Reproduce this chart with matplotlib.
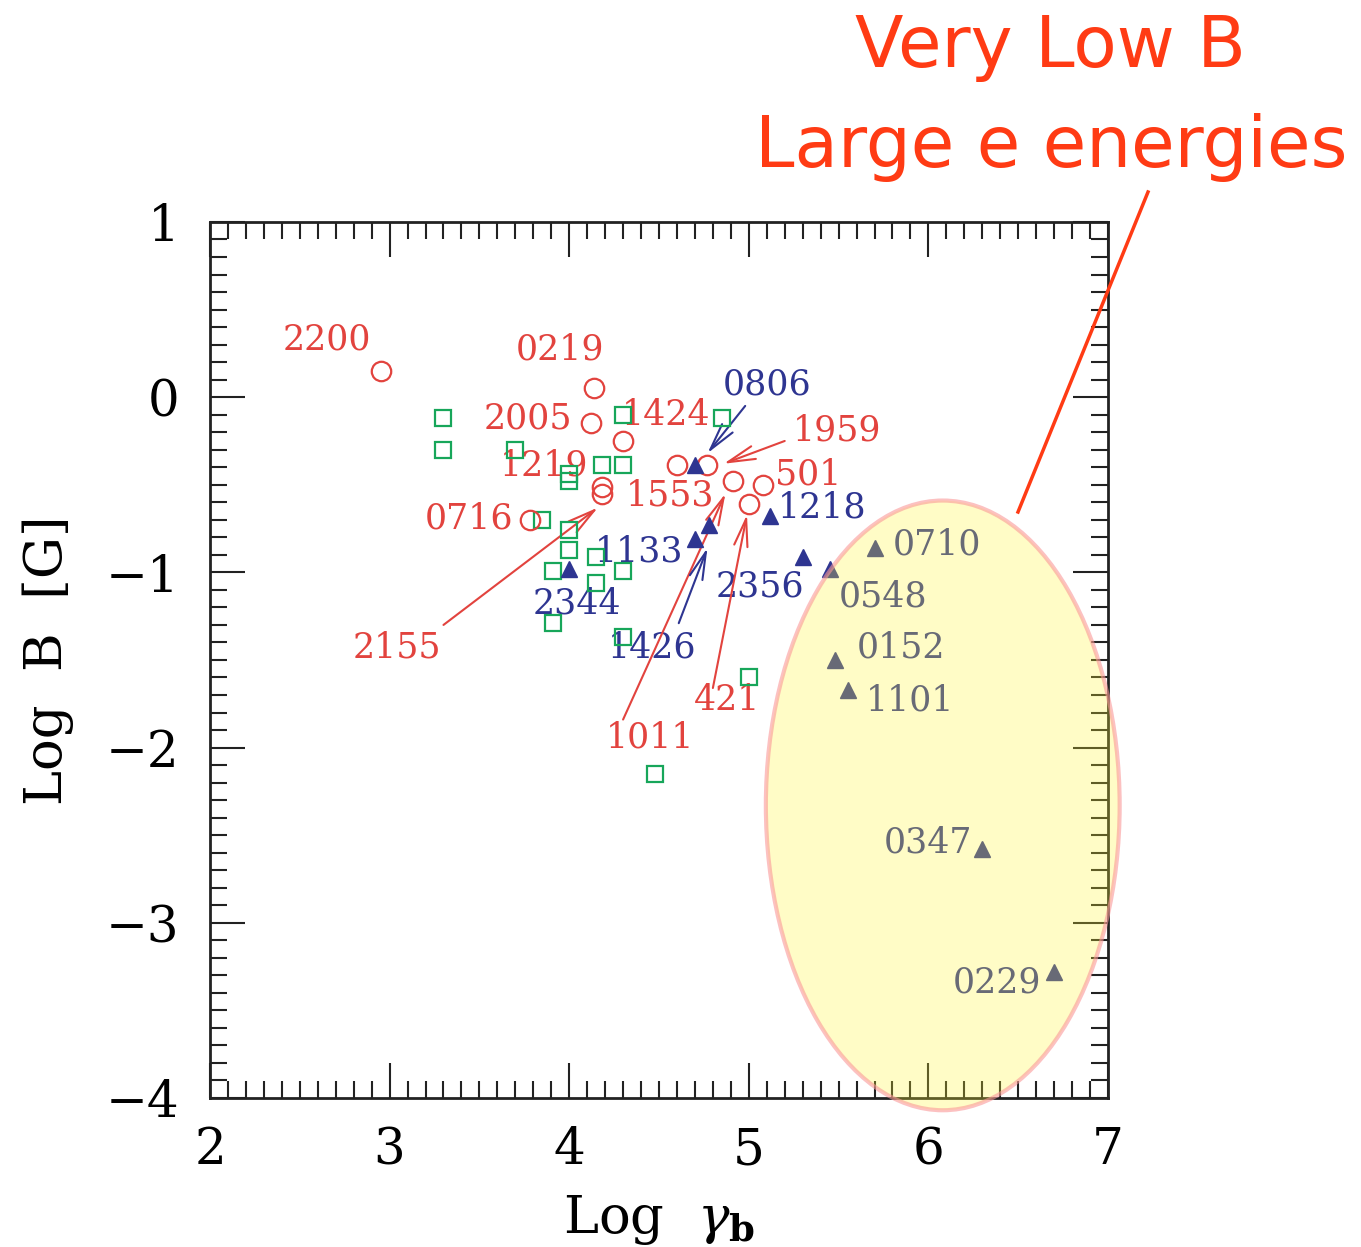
import matplotlib
matplotlib.use("Agg")
import matplotlib.pyplot as plt
from matplotlib.patches import Ellipse
from matplotlib.lines import Line2D
from matplotlib.ticker import MultipleLocator

RED = '#e2433e'
BLUE = '#2e3591'
GREEN = '#17a65a'

# red open circles (log gamma_b, log B)
circ_x = [2.95, 4.14, 4.12, 4.30, 4.60, 4.77, 4.18, 4.18, 3.78, 4.91, 5.08, 5.00]
circ_y = [0.15, 0.05, -0.15, -0.25, -0.39, -0.39, -0.51, -0.55, -0.70, -0.48, -0.50, -0.61]

# blue filled triangles (the ones inside the ellipse end up grey)
tri_x = [4.70, 4.78, 4.70, 5.12, 5.30, 5.45, 4.00, 5.70, 5.48, 5.55, 6.30, 6.70]
tri_y = [-0.39, -0.73, -0.81, -0.68, -0.91, -0.98, -0.98, -0.86, -1.50, -1.67, -2.58, -3.28]

# green open squares
sq_x = [3.30, 3.30, 3.70, 4.30, 4.85, 4.00, 4.00, 4.18, 4.30, 3.85, 4.00, 4.00,
        4.15, 3.91, 4.30, 4.15, 3.91, 4.30, 5.00, 4.48]
sq_y = [-0.12, -0.30, -0.30, -0.10, -0.12, -0.44, -0.48, -0.39, -0.39, -0.70, -0.76, -0.87,
        -0.91, -0.99, -0.99, -1.06, -1.29, -1.37, -1.60, -2.15]

red_names = ['2200', '0219', '2005', '1424', '1219', '0716', '1553', '1959', '501', '2155', '1011', '421']
red_lx = [2.65, 3.95, 3.77, 4.54, 3.86, 3.44, 4.56, 5.49, 5.33, 3.04, 4.45, 4.88]
red_ly = [0.33, 0.27, -0.12, -0.10, -0.39, -0.69, -0.56, -0.19, -0.44, -1.43, -1.94, -1.73]

blue_names = ['0806', '1218', '1133', '2344', '2356', '1426',
              '0710', '0548', '0152', '1101', '0347', '0229']
blue_lx = [5.10, 5.41, 4.39, 4.04, 5.06, 4.46, 6.05, 5.75, 5.85, 5.90, 6.00, 6.38]
blue_ly = [0.07, -0.63, -0.88, -1.18, -1.08, -1.43, -0.84, -1.14, -1.43, -1.73, -2.54, -3.34]

# arrows: label end -> source
arrows = [
    ((4.98, -0.05), (4.77, -0.32), BLUE),
    ((5.20, -0.25), (4.86, -0.38), RED),
    ((3.30, -1.30), (4.16, -0.63), RED),
    ((4.30, -1.84), (4.87, -0.55), RED),
    ((4.61, -1.29), (4.77, -0.86), BLUE),
    ((4.80, -1.66), (4.99, -0.67), RED),
]


def main():
    plt.rcParams['font.family'] = 'DejaVu Serif'
    plt.rcParams['mathtext.fontset'] = 'dejavuserif'

    fig = plt.figure(figsize=(13.61, 12.47), dpi=100)
    ax = fig.add_axes([0.1543, 0.1195, 0.6598, 0.7025])

    ax.plot(sq_x, sq_y, 's', mfc='none', mec=GREEN, ms=12, mew=1.6, zorder=4)
    ax.plot(circ_x, circ_y, 'o', mfc='none', mec=RED, ms=14, mew=1.6, zorder=4)
    ax.plot(tri_x, tri_y, '^', color=BLUE, ms=12, zorder=4)

    for name, x, y in zip(red_names, red_lx, red_ly):
        ax.text(x, y, name, color=RED, fontsize=25, ha='center', va='center')
    for name, x, y in zip(blue_names, blue_lx, blue_ly):
        ax.text(x, y, name, color=BLUE, fontsize=25, ha='center', va='center')

    for start, end, c in arrows:
        ax.annotate('', xy=end, xytext=start,
                    arrowprops=dict(arrowstyle='->,head_length=0.9,head_width=0.22',
                                    color=c, lw=1.5, mutation_scale=22,
                                    shrinkA=0, shrinkB=0))

    ell = Ellipse((6.08, -2.33), 1.97, 3.48, facecolor=(1.0, 0.96, 0.2, 0.28),
                  edgecolor=(0.98, 0.6, 0.6, 0.6), lw=3, zorder=10, clip_on=False)
    ax.add_patch(ell)

    ax.set_xlim(2, 7)
    ax.set_ylim(-4, 1)
    ax.xaxis.set_major_locator(MultipleLocator(1))
    ax.yaxis.set_major_locator(MultipleLocator(1))
    ax.xaxis.set_minor_locator(MultipleLocator(0.1))
    ax.yaxis.set_minor_locator(MultipleLocator(0.1))
    ax.tick_params(which='both', direction='in', top=True, right=True, width=1.5, color='#222222')
    ax.tick_params(which='major', length=25, labelsize=36)
    ax.tick_params(axis='x', which='major', pad=20)
    ax.tick_params(axis='y', which='major', pad=22)
    ax.tick_params(which='minor', length=12)
    for s in ax.spines.values():
        s.set_linewidth(2)
        s.set_color('#222222')

    ax.set_xlabel(r'Log  $\gamma_{\mathbf{b}}$', fontsize=38)
    ax.set_ylabel('Log  B  [G]', fontsize=38)
    ax.xaxis.set_label_coords(0.5, -0.108)
    ax.yaxis.set_label_coords(-0.152, 0.5)

    # handwritten note
    fig.text(1050 / 1361, 1 - 48 / 1247, 'Very Low B', color='#ff3b14', fontsize=51,
             ha='center', va='center', family='DejaVu Sans')
    fig.text(1051 / 1361, 1 - 148 / 1247, 'Large e energies', color='#ff3b14', fontsize=51,
             ha='center', va='center', family='DejaVu Sans')
    fig.add_artist(Line2D([1148 / 1361, 1018 / 1361], [1 - 192 / 1247, 1 - 512 / 1247],
                          color='#ff3b14', lw=2.5))

    fig.savefig('out.png', dpi=100)


if __name__ == "__main__":
    main()
